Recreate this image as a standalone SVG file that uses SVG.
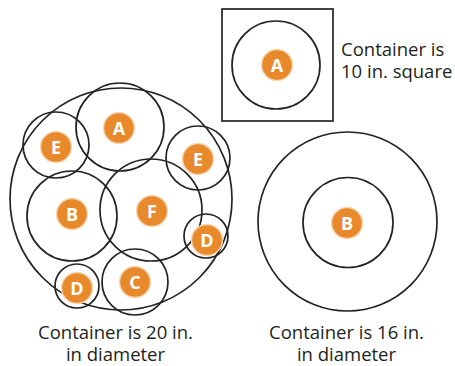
<svg xmlns="http://www.w3.org/2000/svg" width="455" height="366" viewBox="0 0 455 366">
  <style>
    .ring { fill: none; stroke: #232323; stroke-width: 1.7; }
    .disc { fill: #E88A2C; stroke: #F6D7B4; stroke-width: 1.5; }
    .tag { fill: #ffffff; font-family: "Open Sans", "Liberation Sans", sans-serif; font-weight: 700; font-size: 18px; text-anchor: middle; }
    .cap { fill: #231f20; font-family: "Open Sans", "Liberation Sans", sans-serif; font-size: 18.5px; }
  </style>
  <defs>
    <g id="dot"><circle class="disc" cx="0" cy="0" r="15.5"/></g>
  </defs>

  <!-- 20 in. round container packed with items -->
  <g id="container-20">
    <circle class="ring" cx="121" cy="199" r="111"/>
  </g>
  <g id="connectors"></g>
  <g id="item-A-big">
    <circle class="ring" cx="120" cy="127" r="44"/>
    <use href="#dot" x="119" y="128"/>
    <text class="tag" x="119" y="134.5">A</text>
  </g>
  <g id="item-E-left">
    <circle class="ring" cx="56" cy="145" r="33"/>
    <use href="#dot" x="56" y="147"/>
    <text class="tag" x="56" y="153.5">E</text>
  </g>
  <g id="item-E-right">
    <circle class="ring" cx="198" cy="158" r="32"/>
    <use href="#dot" x="198" y="159"/>
    <text class="tag" x="198" y="165.5">E</text>
  </g>
  <g id="item-B-big">
    <circle class="ring" cx="72" cy="216" r="45"/>
    <use href="#dot" x="72" y="214"/>
    <text class="tag" x="72" y="220.5">B</text>
  </g>
  <g id="item-F">
    <circle class="ring" cx="151" cy="210" r="51"/>
    <use href="#dot" x="152" y="211"/>
    <text class="tag" x="152" y="217.5">F</text>
  </g>
  <g id="item-D-right">
    <circle class="ring" cx="206" cy="236" r="22"/>
    <use href="#dot" x="207" y="240"/>
    <text class="tag" x="207" y="246.5">D</text>
  </g>
  <g id="item-C">
    <circle class="ring" cx="135" cy="282" r="33"/>
    <use href="#dot" x="135" y="282"/>
    <text class="tag" x="135" y="288.5">C</text>
  </g>
  <g id="item-D-left">
    <circle class="ring" cx="77" cy="286" r="22"/>
    <use href="#dot" x="77" y="288"/>
    <text class="tag" x="77" y="294.5">D</text>
  </g>
  <g id="label-20">
    <text class="cap" x="115.5" y="339" text-anchor="middle">Container is 20 in.</text>
    <text class="cap" x="115.5" y="361" text-anchor="middle">in diameter</text>
  </g>

  <!-- 10 in. square container -->
  <g id="container-10">
    <rect class="ring" x="222" y="9" width="111" height="112"/>
    <circle class="ring" cx="276" cy="65" r="44"/>
    <use href="#dot" x="277" y="65"/>
    <text class="tag" x="277" y="71.5">A</text>
  </g>
  <g id="label-10">
    <text class="cap" x="341" y="56">Container is</text>
    <text class="cap" x="341" y="78">10 in. square</text>
  </g>

  <!-- 16 in. round container -->
  <g id="container-16">
    <circle class="ring" cx="347.5" cy="221.5" r="89.5"/>
    <circle class="ring" cx="348" cy="222.5" r="45"/>
    <use href="#dot" x="347" y="223"/>
    <text class="tag" x="347" y="229.5">B</text>
  </g>
  <g id="label-16">
    <text class="cap" x="346.5" y="339" text-anchor="middle">Container is 16 in.</text>
    <text class="cap" x="346.5" y="361" text-anchor="middle">in diameter</text>
  </g>
</svg>
